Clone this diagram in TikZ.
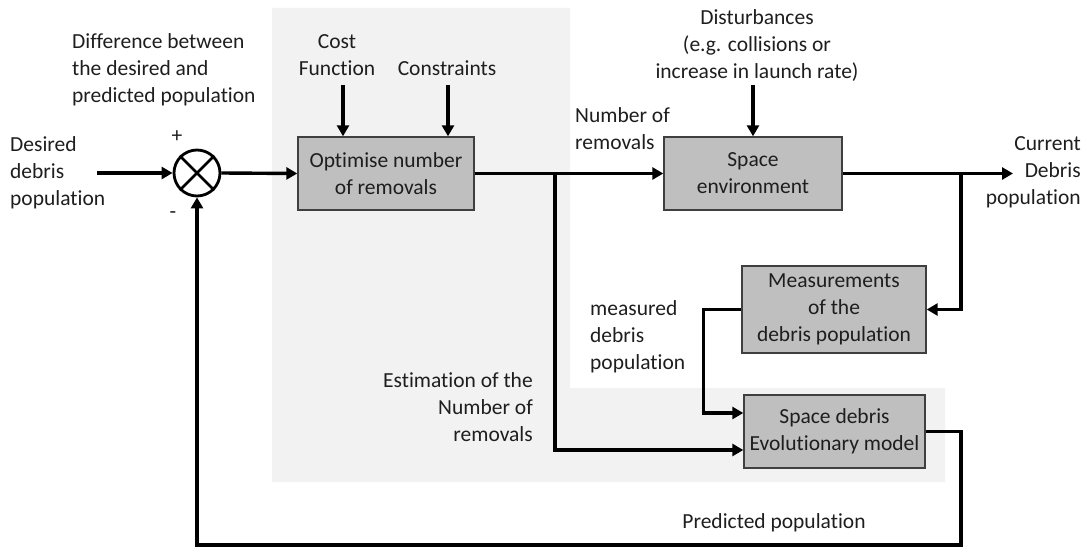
\documentclass[tikz,border=0pt]{standalone}
\usepackage{fontspec}
\setmainfont{Carlito}[Ligatures=NoCommon]
\usetikzlibrary{arrows.meta}
\definecolor{boxfill}{HTML}{BFBFBF}
\definecolor{boxline}{HTML}{3F3F3F}
\definecolor{shadecol}{HTML}{F2F2F2}
\definecolor{txt}{HTML}{1E1E1E}
\begin{document}
\begin{tikzpicture}[x=1pt,y=-1pt,
  lbl/.style={font=\fontsize{21.5}{27}\selectfont, text=txt, inner sep=0pt, align=center},
  blk/.style={draw=boxline, line width=1.4pt, fill=boxfill, font=\fontsize{21.5}{27}\selectfont, text=txt, align=center, inner sep=0pt},
  conn/.style={line width=3.4pt, -{Triangle[length=11pt,width=12pt]}}]
\useasboundingbox (0,0) rectangle (1083,548);
\fill[shadecol] (272,8) -- (570,8) -- (570,388) -- (945,388) -- (945,482) -- (272,482) -- cycle;

% blocks
\node[blk, minimum width=176pt, minimum height=73pt] (opt) at (386,173.5) {Optimise number\\of removals};
\node[blk, minimum width=178pt, minimum height=73pt] (env) at (753,173.5) {Space\\environment};
\node[blk, minimum width=184pt, minimum height=87pt] (meas) at (834,309.5) {Measurements\\of the\\debris population};
\node[blk, minimum width=181pt, minimum height=73pt] (model) at (834.5,431.5) {Space debris\\Evolutionary model};
\node[draw, circle, line width=2.8pt, minimum size=46pt, inner sep=0pt] (sum) at (197,173) {};
\draw[line width=2.6pt] (sum.north west) -- (sum.south east) (sum.north east) -- (sum.south west);

% labels
\node[lbl, anchor=west, align=left] (desired) at (10,173) {Desired\\debris\\population};
\node[lbl, anchor=west, align=left] (diff) at (72,70) {Difference between\\the desired and\\predicted population};
\node[lbl] (plus) at (177,137) {+};
\node[lbl] (minus) at (173,215) {-};
\node[lbl] (cost) at (337,55) {Cost\\Function};
\node[lbl] (cons) at (447,68) {Constraints};
\node[lbl] (dist) at (757,46) {Disturbances\\(e.g. collisions or\\increase in launch rate)};
\node[lbl, anchor=west, align=left] (nrem) at (575,128.5) {Number of\\removals};
\node[lbl, anchor=east, align=right] (cur) at (1081,172) {Current\\Debris\\population};
\node[lbl, anchor=west, align=left] (mlbl) at (590,337) {measured\\debris\\population};
\node[lbl, anchor=east, align=right] (est) at (533,407) {Estimation of the\\Number of\\removals};
\node[lbl] (pred) at (774,523) {Predicted population};

% coordinates
\coordinate (din) at (97,173);
\coordinate (cfin) at (343,85);
\coordinate (csin) at (448,85);
\coordinate (dsin) at (753,85);
\coordinate (b1) at (555,173.5);
\coordinate (b2) at (961,173.5);
\coordinate (out) at (1013,173.5);
\coordinate (fb) at (961,545);

% connectors
\draw[conn] (din) -- (sum.west);
\draw[conn] (sum.east) -- (opt.west);
\draw[conn] (cfin) -- (cfin |- opt.north);
\draw[conn] (csin) -- (csin |- opt.north);
\draw[conn] (dsin) -- (dsin |- env.north);
\draw[conn] (opt.east) -- (env.west);
\draw[conn] (env.east) -- (out);
\draw[conn] (b1) |- ([yshift=-18.5pt]model.west);
\draw[conn] (b2) |- (meas.east);
\draw[conn] (meas.west) -- ++(-38,0) |- ([yshift=18.5pt]model.west);
\draw[conn] (model.east) -| (fb) -- (sum.south |- fb) -- (sum.south);
\end{tikzpicture}
\end{document}
